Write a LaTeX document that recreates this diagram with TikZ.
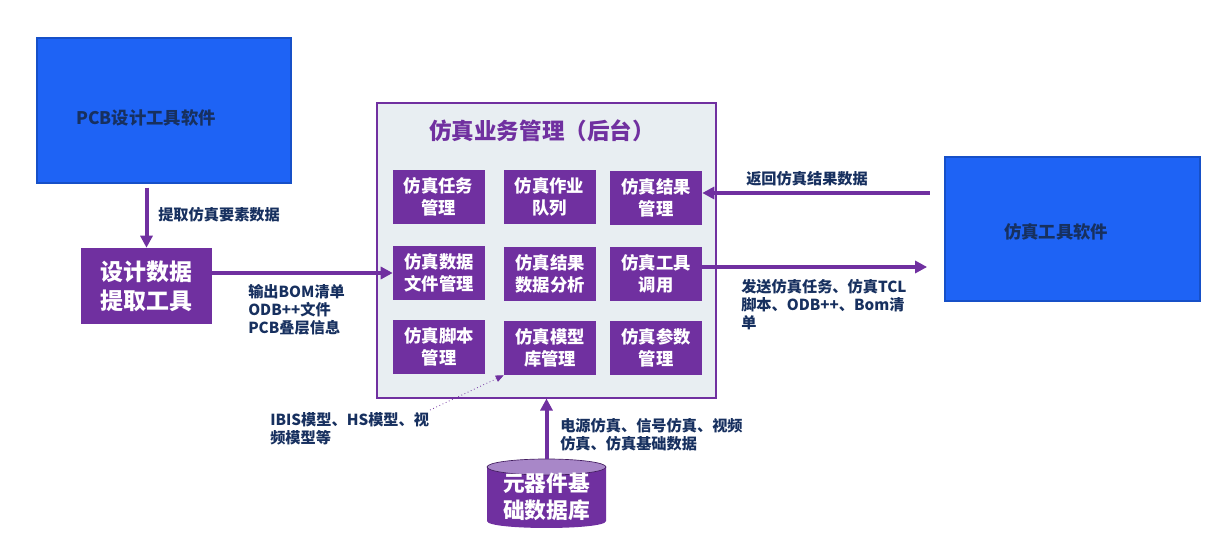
\documentclass[tikz,border=0pt]{standalone}
\usepackage{fontspec}
\setmainfont{Noto Sans CJK SC}
\usetikzlibrary{arrows.meta,positioning}
\definecolor{softblue}{HTML}{1E63F5}
\definecolor{softedge}{HTML}{1650C8}
\definecolor{navy}{HTML}{17305F}
\definecolor{violet}{HTML}{7030A0}
\definecolor{violetlt}{HTML}{A887C8}
\definecolor{panelbg}{HTML}{E8EEF2}
\tikzset{
  soft/.style={draw=softedge, fill=softblue, line width=0.8pt},
  softtxt/.style={text=navy, font=\fontsize{13}{16}\selectfont\bfseries},
  func/.style={fill=violet, text=white, minimum width=69pt, minimum height=40.5pt,
    align=center, inner sep=0pt, font=\fontsize{13}{16.5}\selectfont\bfseries},
  panel/.style={draw=violet, fill=panelbg, line width=0.8pt},
  hdr/.style={text=violet, font=\fontsize{16.9}{20}\selectfont\bfseries},
  lab/.style={text=navy, align=left, inner sep=0pt, anchor=north west,
    font=\fontsize{11.4}{13.5}\selectfont\bfseries},
  arr/.style={-{Triangle[length=9pt,width=9pt]}, line width=3pt, color=violet},
  thinarr/.style={-{Triangle[length=6pt,width=5pt]}, line width=0.6pt, dotted, color=violet}
}
\begin{document}
\begin{tikzpicture}[x=0.75pt,y=-0.75pt]
\useasboundingbox (0,0) rectangle (1209,541);

% ---------------- Design side ----------------
\node[soft, minimum width=190.5pt, minimum height=108.75pt] (pcb) at (164,110.5) {};
\node[softtxt] (pcbtxt) at (146,118) {PCB设计工具软件};
\node[fill=violet, text=white, minimum width=98.25pt, minimum height=57pt, align=center,
  inner sep=0pt, font=\fontsize{17.2}{21.7}\selectfont\bfseries] (extract) at (146.5,286) {设计数据\\提取工具};

% ---------------- Back-end panel ----------------
\node[panel, minimum width=254.25pt, minimum height=221.25pt] (panel) at (546.5,250.5) {};
\node[hdr] (title) at (542,131) {仿真业务管理（后台）};

\node[func] (task) at (438.5,197) {仿真任务\\管理};
\node[func] (queue) at (549.5,197) {仿真作业\\队列};
\node[func] (result) at (656,198) {仿真结果\\管理};
\node[func] (fdata) at (439,273) {仿真数据\\文件管理};
\node[func] (analysis) at (550,274) {仿真结果\\数据分析};
\node[func] (call) at (656,274) {仿真工具\\调用};
\node[func] (script) at (439,347) {仿真脚本\\管理};
\node[func] (lib) at (550,348) {仿真模型\\库管理};
\node[func] (param) at (656,348) {仿真参数\\管理};

% ---------------- Simulation tool ----------------
\node[soft, minimum width=191.25pt, minimum height=108pt] (simtool) at (1072.5,229) {};
\node[softtxt] (simtxt) at (1056,232) {仿真工具软件};

% ---------------- Component database ----------------
\fill[violet] (487,467) -- (487,521) .. controls (487,530.3) and (606,530.3) .. (606,521) -- (606,467) -- cycle;
\fill[violetlt] (546.5,467) ellipse [x radius=59.5, y radius=8];
\draw[violet!60!black, line width=0.5pt] (546.5,467) ellipse [x radius=59.5, y radius=8];
\node[text=white, align=center, inner sep=0pt, font=\fontsize{16.3}{20.5}\selectfont\bfseries] (db) at (546.5,497) {元器件基\\础数据库};
\coordinate (dbtop) at (546.5,459);

% ---------------- Labels ----------------
\node[lab] (l1) at (158,207) {提取仿真要素数据};
\node[lab] (l2) at (248,284) {输出BOM清单\\ODB++文件\\PCB叠层信息};
\node[lab] (l3) at (746,171) {返回仿真结果数据};
\node[lab] (l4) at (741,279) {发送仿真任务、仿真TCL\\脚本、ODB++、Bom清\\单};
\node[lab] (l5) at (270,412) {IBIS模型、HS模型、视\\频模型等};
\node[lab] (l6) at (560,418) {电源仿真、信号仿真、视频\\仿真、仿真基础数据};
\coordinate (ibis) at (430,410);

% ---------------- Arrows ----------------
\draw[arr, shorten <=3pt] (pcb.south -| extract.north) -- (extract.north);
\draw[arr] (extract.east |- fdata.west) -- (fdata.west);
\draw[arr, shorten <=11pt] (simtool.west |- 0,193) -- (result.east |- 0,193);
\draw[arr, shorten >=13pt] (call.east |- 0,267) -- (simtool.west |- 0,267);
\draw[thinarr] (ibis) -- (lib.south west);
\draw[arr] (dbtop) -- (panel.south -| dbtop);

\end{tikzpicture}
\end{document}
